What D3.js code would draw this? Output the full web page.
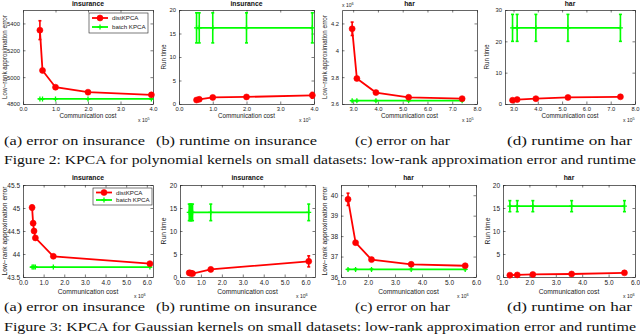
<!DOCTYPE html>
<html>
<head>
<meta charset="utf-8">
<script src="https://cdn.jsdelivr.net/npm/d3@7"></script>
<style>
  body { margin: 0; background: #fff; }
</style>
</head>
<body>
<div id="chart"></div>
<script>
// polynomial kernel, insurance (cost in 1e5)
var polyInsCost = [0.52, 0.6, 1.0, 2.0, 3.95];
var polyInsDistErr = [5350, 5050, 4925, 4888, 4868];
var polyInsDistErrBar = [70, 12, 10, 8, 8];
var polyInsBatchErr = [4838, 4838, 4838, 4838, 4838];
var polyInsDistTime = [0.85, 1.0, 1.4, 1.5, 1.85];
var polyInsDistTimeBar = [0.2, 0.2, 0.3, 0.3, 0.6];
var polyInsBatchTime = [16.2, 16.2, 16.2, 16.2, 16.2];
var polyInsBatchTimeBar = [3.2, 3.2, 3.2, 3.2, 3.2];

// polynomial kernel, har
var polyHarCost = [2.96, 3.15, 3.92, 5.24, 7.4];
var polyHarDistErr = [4.16, 3.79, 3.685, 3.65, 3.64];
var polyHarDistErrBar = [0.05, 0.008, 0.006, 0.005, 0.005];
var polyHarBatchErr = [3.625, 3.625, 3.625, 3.625, 3.625];
var polyHarDistTime = [1.2, 1.4, 1.7, 2.1, 2.3];
var polyHarDistTimeBar = [0.2, 0.2, 0.3, 0.5, 0.4];
var polyHarBatchTime = [24.3, 24.3, 24.3, 24.3, 24.3];
var polyHarBatchTimeBar = [4.3, 4.3, 4.3, 4.3, 4.3];

// gaussian kernel, insurance (cost in 1e6)
var gaussInsCost = [0.44, 0.49, 0.535, 0.6, 1.47, 6.15];
var gaussInsDistErr = [45.01, 44.67, 44.5, 44.35, 43.95, 43.79];
var gaussInsDistErrBar = [0.05, 0.04, 0.03, 0.03, 0.02, 0.02];
var gaussInsBatchErr = [43.715, 43.715, 43.715, 43.715, 43.715, 43.715];
var gaussInsDistTime = [0.9, 0.85, 0.8, 0.75, 1.65, 3.4];
var gaussInsDistTimeBar = [0.3, 0.3, 0.3, 0.3, 0.4, 1.2];
var gaussInsBatchTime = [14.05, 14.05, 14.05, 14.05, 14.05, 14.05];
var gaussInsBatchTimeBar = [1.8, 1.8, 1.8, 1.8, 1.8, 1.8];

// gaussian kernel, har
var gaussHarCost = [1.26, 1.54, 2.13, 3.6, 5.6];
var gaussHarDistErr = [39.8, 37.68, 36.85, 36.62, 36.55];
var gaussHarDistErrBar = [0.3, 0.05, 0.04, 0.04, 0.04];
var gaussHarBatchErr = [36.37, 36.37, 36.37, 36.37, 36.37];
var gaussHarDistTime = [0.4, 0.45, 0.55, 0.65, 0.9];
var gaussHarDistTimeBar = [0.1, 0.1, 0.1, 0.15, 0.15];
var gaussHarBatchTime = [15.4, 15.4, 15.4, 15.4, 15.4];
var gaussHarBatchTimeBar = [1.2, 1.2, 1.2, 1.2, 1.2];

// tick labels
var ticks0to4 = [0, 1, 2, 3, 4];
var ticks0to6 = [0, 1, 2, 3, 4, 5, 6];
var ticks1to6 = [1, 2, 3, 4, 5, 6];
var ticks3to8 = [3, 4, 5, 6, 7, 8];
var polyInsErrTicks = [4800, 5000, 5200, 5400];
var polyHarErrTicks = [3.6, 3.8, 4, 4.2];
var gaussInsErrTicks = [43.5, 44, 44.5, 45, 45.5];
var gaussHarErrTicks = [36, 37, 38, 39, 40];
var time20Ticks = [0, 5, 10, 15, 20];
var time30Ticks = [0, 10, 20, 30];

var seriesNames = ["distKPCA", "batch KPCA"];
var subCaptions = ["(a) error on insurance", "(b) runtime on insurance", "(c) error on har", "(d) runtime on har"];
var figCaptions = [
  "Figure 2: KPCA for polynomial kernels on small datasets: low-rank approximation error and runtime",
  "Figure 3: KPCA for Gaussian kernels on small datasets: low-rank approximation error and runtime"
];

var width = 640, height = 336;
var red = "#ff0000", green = "#00ff00";
var sans = "Liberation Sans, Arial, sans-serif";
var serif = "Liberation Serif, Times New Roman, serif";

var svg = d3.select("#chart").append("svg")
  .attr("width", width)
  .attr("height", height)
  .attr("font-family", sans);
svg.append("rect").attr("width", width).attr("height", height).attr("fill", "#fff");

function drawPanel(p) {
  var x = d3.scaleLinear().domain(p.xDomain).range([p.left, p.right]);
  var y = d3.scaleLinear().domain(p.yDomain).range([p.bottom, p.top]);
  var g = svg.append("g");

  // axes with inward ticks on all four sides
  var bottom = g.append("g").attr("transform", `translate(0,${p.bottom})`)
    .call(d3.axisBottom(x).tickValues(p.xTicks).tickSizeInner(-2.5).tickSizeOuter(0).tickPadding(p.padX));
  var left = g.append("g").attr("transform", `translate(${p.left},0)`)
    .call(d3.axisLeft(y).tickValues(p.yTicks).tickSizeInner(-2.5).tickSizeOuter(0).tickPadding(3).tickFormat(d3.format("~")));
  var top = g.append("g").attr("transform", `translate(0,${p.top})`)
    .call(d3.axisTop(x).tickValues(p.xTicks).tickSizeInner(-2.5).tickSizeOuter(0).tickFormat(""));
  var right = g.append("g").attr("transform", `translate(${p.right},0)`)
    .call(d3.axisRight(y).tickValues(p.yTicks).tickSizeInner(-2.5).tickSizeOuter(0).tickFormat(""));
  [bottom, left, top, right].forEach(function(a) {
    a.attr("font-family", sans);
    a.selectAll("path.domain").attr("stroke", "#222").attr("stroke-width", 0.7);
    a.selectAll("line").attr("stroke", "#222").attr("stroke-width", 0.6);
    a.selectAll("text").attr("font-size", p.tickFont).attr("fill", "#222");
  });

  var line = d3.line().x(function(d) { return x(d[0]); }).y(function(d) { return y(d[1]); });

  function series(vals, bars, color, marker) {
    var pts = p.cost.map(function(c, i) { return [c, vals[i], bars[i]]; });
    g.append("path").datum(pts).attr("d", line)
      .attr("fill", "none").attr("stroke", color).attr("stroke-width", 1.8);
    var eb = g.append("g").attr("stroke", color).attr("stroke-width", 1.6);
    pts.forEach(function(d) {
      eb.append("line").attr("x1", x(d[0])).attr("x2", x(d[0]))
        .attr("y1", y(d[1] - d[2])).attr("y2", y(d[1] + d[2]));
      [d[1] - d[2], d[1] + d[2]].forEach(function(v) {
        eb.append("line").attr("x1", x(d[0]) - 1.5).attr("x2", x(d[0]) + 1.5)
          .attr("y1", y(v)).attr("y2", y(v));
      });
    });
    pts.forEach(function(d) { drawMarker(g, x(d[0]), y(d[1]), color, marker); });
  }
  series(p.batch, p.batchBar, green, "plus");
  series(p.dist, p.distBar, red, "circle");

  // title
  g.append("text").attr("x", (p.left + p.right) / 2).attr("y", p.titleY)
    .attr("text-anchor", "middle").attr("font-size", 6.8).attr("font-weight", "bold")
    .attr("fill", "#111").text(p.title);

  // axis labels
  g.append("text").attr("x", (p.left + p.right) / 2).attr("y", p.xLabelY)
    .attr("text-anchor", "middle").attr("font-size", p.labelFont).attr("fill", "#222")
    .text("Communication cost");
  var ex = g.append("text").attr("x", p.right - p.expOffset).attr("y", p.xLabelY + 4)
    .attr("font-size", 5).attr("fill", "#222");
  ex.append("tspan").text("x 10");
  ex.append("tspan").attr("dy", -2.5).attr("font-size", 3.8).text(p.xExp);

  g.append("text")
    .attr("transform", `translate(${p.yLabelX},${(p.top + p.bottom) / 2}) rotate(-90)`)
    .attr("text-anchor", "middle").attr("dy", "0.35em")
    .attr("font-size", p.labelFont).attr("fill", "#222").text(p.ylabel);

  if (p.yExp) {
    var ey = g.append("text").attr("x", p.left).attr("y", p.top - 3)
      .attr("font-size", 5).attr("fill", "#222");
    ey.append("tspan").text("x 10");
    ey.append("tspan").attr("dy", -2.5).attr("font-size", 3.8).text(p.yExp);
  }

  if (p.legend) {
    var L = p.legend;
    g.append("rect").attr("x", L.x).attr("y", L.y).attr("width", L.w).attr("height", L.h)
      .attr("fill", "#fff").attr("stroke", "#222").attr("stroke-width", 0.6);
    [[red, "circle"], [green, "plus"]].forEach(function(s, i) {
      var ly = L.y + L.rowY[i];
      g.append("line").attr("x1", L.x + 3).attr("x2", L.x + 19).attr("y1", ly).attr("y2", ly)
        .attr("stroke", s[0]).attr("stroke-width", 1.8);
      drawMarker(g, L.x + 11, ly, s[0], s[1]);
      g.append("text").attr("x", L.x + 23).attr("y", ly).attr("dy", "0.35em")
        .attr("font-size", 6.2).attr("fill", "#222").text(seriesNames[i]);
    });
  }
}

function drawMarker(g, cx, cy, color, marker) {
  if (marker === "circle") {
    g.append("circle").attr("cx", cx).attr("cy", cy).attr("r", 3)
      .attr("fill", color).attr("stroke", color).attr("stroke-width", 0.6);
  } else {
    g.append("path").attr("d", `M${cx - 2.5},${cy}H${cx + 2.5}M${cx},${cy - 2.5}V${cy + 2.5}`)
      .attr("stroke", color).attr("stroke-width", 1.3).attr("fill", "none");
  }
}

var errLabel = "Low\u2212rank approximation error";
var row1 = { top: 10, bottom: 104, tickFont: 5.8, labelFont: 6.3, padX: 2.5, titleY: 5.5, xLabelY: 118, xExp: "5", expOffset: 15 };
var row2 = { top: 185, bottom: 277, tickFont: 6.5, labelFont: 6.7, padX: 3.5, titleY: 179.5, xLabelY: 294, xExp: "6", expOffset: 19 };

var panels = [
  Object.assign({}, row1, { left: 23, right: 153, xDomain: [0, 4], yDomain: [4800, 5500], xTicks: ticks0to4, yTicks: polyInsErrTicks,
    cost: polyInsCost, dist: polyInsDistErr, distBar: polyInsDistErrBar, batch: polyInsBatchErr, batchBar: polyInsBatchErr.map(function() { return 0; }),
    title: "insurance", ylabel: errLabel, yLabelX: 5, legend: { x: 89, y: 13, w: 59, h: 20, rowY: [5, 14] } }),
  Object.assign({}, row1, { left: 179, right: 314, xDomain: [0, 4], yDomain: [0, 20], xTicks: ticks0to4, yTicks: time20Ticks,
    cost: polyInsCost, dist: polyInsDistTime, distBar: polyInsDistTimeBar, batch: polyInsBatchTime, batchBar: polyInsBatchTimeBar,
    title: "insurance", ylabel: "Run time", yLabelX: 164 }),
  Object.assign({}, row1, { left: 342, right: 477, xDomain: [2.55, 8], yDomain: [3.6, 4.3], xTicks: ticks3to8, yTicks: polyHarErrTicks,
    cost: polyHarCost, dist: polyHarDistErr, distBar: polyHarDistErrBar, batch: polyHarBatchErr, batchBar: polyHarBatchErr.map(function() { return 0; }),
    title: "har", ylabel: errLabel, yLabelX: 325, yExp: "6" }),
  Object.assign({}, row1, { left: 505, right: 635, xDomain: [2.65, 8], yDomain: [0, 30], xTicks: ticks3to8, yTicks: time30Ticks,
    cost: polyHarCost, dist: polyHarDistTime, distBar: polyHarDistTimeBar, batch: polyHarBatchTime, batchBar: polyHarBatchTimeBar,
    title: "har", ylabel: "Run time", yLabelX: 487, expOffset: 12 }),
  Object.assign({}, row2, { left: 23, right: 153, xDomain: [0, 6.3], yDomain: [43.5, 45.5], xTicks: ticks0to6, yTicks: gaussInsErrTicks,
    cost: gaussInsCost, dist: gaussInsDistErr, distBar: gaussInsDistErrBar, batch: gaussInsBatchErr, batchBar: gaussInsBatchErr.map(function() { return 0; }),
    title: "insurance", ylabel: errLabel, yLabelX: 5, legend: { x: 93, y: 188, w: 59, h: 17, rowY: [4.5, 12] } }),
  Object.assign({}, row2, { left: 180, right: 315, xDomain: [0, 6.45], yDomain: [0, 20], xTicks: ticks0to6, yTicks: time20Ticks,
    cost: gaussInsCost, dist: gaussInsDistTime, distBar: gaussInsDistTimeBar, batch: gaussInsBatchTime, batchBar: gaussInsBatchTimeBar,
    title: "insurance", ylabel: "Run time", yLabelX: 164 }),
  Object.assign({}, row2, { left: 341, right: 476, xDomain: [1, 6], yDomain: [36, 40.5], xTicks: ticks1to6, yTicks: gaussHarErrTicks,
    cost: gaussHarCost, dist: gaussHarDistErr, distBar: gaussHarDistErrBar, batch: gaussHarBatchErr, batchBar: gaussHarBatchErr.map(function() { return 0; }),
    title: "har", ylabel: errLabel, yLabelX: 325 }),
  Object.assign({}, row2, { left: 503, right: 635, xDomain: [1, 6], yDomain: [0, 20], xTicks: ticks1to6, yTicks: time20Ticks,
    cost: gaussHarCost, dist: gaussHarDistTime, distBar: gaussHarDistTimeBar, batch: gaussHarBatchTime, batchBar: gaussHarBatchTimeBar,
    title: "har", ylabel: "Run time", yLabelX: 488, expOffset: 12 })
];

panels.forEach(drawPanel);

// captions (serif, like the paper)
var capX = [[4, 145], [156, 317], [355, 450], [507, 632]];
[[145, 164], [311, 331]].forEach(function(rowY, r) {
  subCaptions.forEach(function(t, i) {
    svg.append("text").attr("x", capX[i][0]).attr("y", rowY[0])
      .attr("font-family", serif).attr("font-size", 13)
      .attr("textLength", capX[i][1] - capX[i][0]).attr("lengthAdjust", "spacingAndGlyphs")
      .attr("fill", "#111").text(t);
  });
  svg.append("text").attr("x", 4).attr("y", rowY[1])
    .attr("font-family", serif).attr("font-size", 13)
    .attr("textLength", 632).attr("lengthAdjust", "spacingAndGlyphs")
    .attr("fill", "#111").text(figCaptions[r]);
});
</script>
</body>
</html>
